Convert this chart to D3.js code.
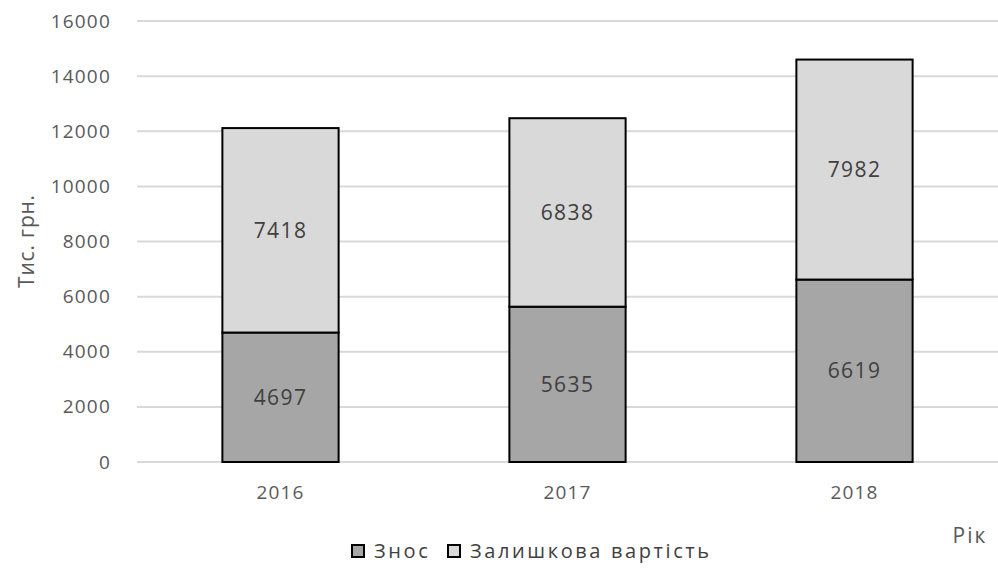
<!DOCTYPE html>
<html>
  <head>
    <meta charset="utf-8">
    <title>Знос та залишкова вартість</title>
    <script src="https://d3js.org/d3.v7.min.js"></script>
    <style>
      body { margin: 0; background: #fff; }
      text { font-family: "Open Sans", "Noto Sans", sans-serif; }
    </style>
  </head>
  <body>
<script>

// data
var years = ["2016", "2017", "2018"];
var znos = [4697, 5635, 6619];
var zalyshkova = [7418, 6838, 7982];
var yTicks = [0, 2000, 4000, 6000, 8000, 10000, 12000, 14000, 16000];
var seriesNames = ["Знос", "Залишкова вартість"];
var seriesColors = ["#a6a6a6", "#d9d9d9"];

var width = 998, height = 571;
var margin = {top: 21, right: 0, bottom: 109, left: 137};

var svg = d3.select("body").append("svg")
    .attr("width", width)
    .attr("height", height);

var x = d3.scaleBand()
    .domain(years)
    .range([margin.left, width - margin.right])
    .paddingInner(0.595)
    .paddingOuter(0.2975);

var y = d3.scaleLinear()
    .domain([0, 16000])
    .range([height - margin.bottom, margin.top]);

// gridlines
svg.append("g").selectAll("line")
    .data(yTicks)
    .enter().append("line")
    .attr("x1", margin.left)
    .attr("x2", width - margin.right)
    .attr("y1", function(d) { return y(d); })
    .attr("y2", function(d) { return y(d); })
    .style("stroke", "#d9d9d9")
    .style("stroke-width", 2);

// y axis labels
var yAxis = svg.append("g")
    .attr("transform", "translate(" + (margin.left - 26) + ",0)")
    .call(d3.axisLeft(y).tickValues(yTicks).tickFormat(d3.format("d")).tickSize(0).tickPadding(0));
yAxis.select(".domain").remove();
yAxis.selectAll("text")
    .style("font-size", "19px")
    .style("letter-spacing", "1.2px")
    .style("fill", "#595959");

// stacked data
var stackData = years.map(function(yr, i) {
  return {year: yr, a: znos[i], b: zalyshkova[i]};
});
var stacked = d3.stack().keys(["a", "b"])(stackData);

var groups = svg.selectAll(".series")
    .data(stacked)
    .enter().append("g")
    .attr("class", "series")
    .style("fill", function(d, i) { return seriesColors[i]; });

groups.selectAll("rect")
    .data(function(d) { return d; })
    .enter().append("rect")
    .attr("x", function(d) { return x(d.data.year); })
    .attr("y", function(d) { return y(d[1]); })
    .attr("width", x.bandwidth())
    .attr("height", function(d) { return y(d[0]) - y(d[1]); })
    .style("stroke", "#000")
    .style("stroke-width", 2);

groups.selectAll("text")
    .data(function(d) { return d; })
    .enter().append("text")
    .attr("x", function(d) { return x(d.data.year) + x.bandwidth() / 2; })
    .attr("y", function(d) { return (y(d[0]) + y(d[1])) / 2; })
    .attr("dy", "0.35em")
    .style("text-anchor", "middle")
    .style("font-size", "21px")
    .style("letter-spacing", "1.4px")
    .style("fill", "#404040")
    .text(function(d) { return d[1] - d[0]; });

// x axis labels
var xAxis = svg.append("g")
    .attr("transform", "translate(0," + (y(0) + 23) + ")")
    .call(d3.axisBottom(x).tickSize(0).tickPadding(0));
xAxis.select(".domain").remove();
xAxis.selectAll("text")
    .style("font-size", "19px")
    .style("letter-spacing", "1.2px")
    .style("fill", "#595959");

// axis titles
svg.append("text")
    .attr("transform", "translate(34,241) rotate(-90)")
    .style("text-anchor", "middle")
    .style("font-size", "21px")
    .style("letter-spacing", "0.8px")
    .style("fill", "#595959")
    .text("Тис. грн.");

svg.append("text")
    .attr("x", 970)
    .attr("y", 543)
    .style("text-anchor", "middle")
    .style("font-size", "21px")
    .style("letter-spacing", "2px")
    .style("fill", "#595959")
    .text("Рік");

// legend
var legendX = [352, 448];
var legend = svg.selectAll(".legend")
    .data(seriesNames)
    .enter().append("g")
    .attr("class", "legend")
    .attr("transform", function(d, i) { return "translate(" + legendX[i] + ",551)"; });

legend.append("rect")
    .attr("x", 0)
    .attr("y", -6)
    .attr("width", 12)
    .attr("height", 12)
    .style("fill", function(d, i) { return seriesColors[i]; })
    .style("stroke", "#000")
    .style("stroke-width", 2);

legend.append("text")
    .attr("x", 22)
    .attr("dy", "0.35em")
    .style("font-size", "20px")
    .style("letter-spacing", "2.6px")
    .style("fill", "#404040")
    .text(function(d) { return d; });

</script>
  </body>
</html>
